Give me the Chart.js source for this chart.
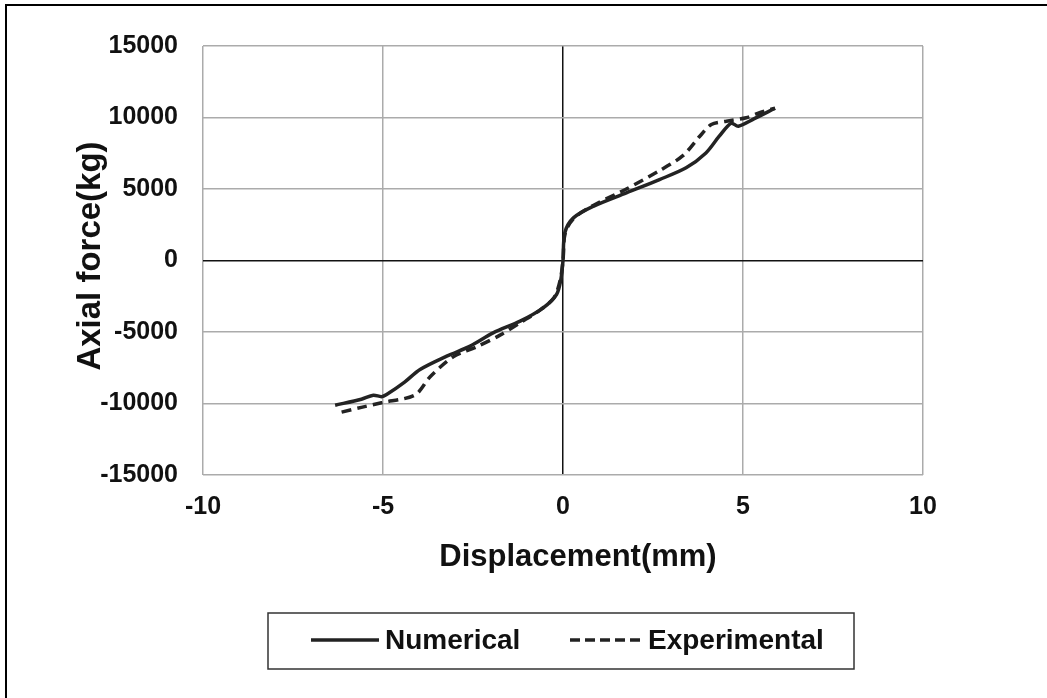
<!DOCTYPE html>
<html><head><meta charset="utf-8">
<script src="https://cdn.jsdelivr.net/npm/chart.js@4/dist/chart.umd.min.js"></script>
<style>
html,body{margin:0;padding:0;background:#fff;}
#wrap{position:relative;width:1047px;height:698px;}
#frame{position:absolute;left:5px;top:4px;right:-4px;bottom:-4px;border-left:2px solid #000;border-top:2px solid #000;}
canvas{position:absolute;left:0;top:0;}
</style></head>
<body><div id="wrap"><div id="frame"></div><canvas id="c" width="1047" height="698"></canvas></div>
<script>
const xTitle = 'Displacement(mm)';
const yTitle = 'Axial force(kg)';
const seriesNames = ['Numerical', 'Experimental'];
const xRange = [-10, 10, 5];
const yRange = [-15000, 15000, 5000];

const numX = [-6.33,-5.6,-5.27,-5.04,-4.9,-4.4,-3.97,-3.23,-2.58,-1.94,-1.19,-0.55,-0.18,-0.06,0,0.05,0.29,0.84,1.76,2.68,3.42,3.97,4.34,4.67,4.87,5.3,5.89];
const numY = [-10120,-9700,-9420,-9520,-9370,-8500,-7620,-6690,-5990,-5060,-4240,-3310,-2380,-1330,0,1930,2980,3790,4730,5660,6480,7520,8690,9600,9390,9900,10650];
const expX = [-6.15,-5.6,-5.04,-4.11,-3.69,-3.05,-2.4,-1.75,-1.19,-0.64,-0.25,-0.08,0,0.06,0.3,0.84,1.76,2.68,3.33,3.8,4.12,4.54,5.09,5.46,5.89];
const expY = [-10600,-10270,-9950,-9400,-8130,-6740,-6040,-5220,-4350,-3470,-2600,-1400,0,1900,2950,3850,5000,6280,7330,8690,9510,9740,9980,10330,10650];

const toPts = (xs, ys) => xs.map((x, i) => ({x: x, y: ys[i]}));
const FONT = '"Liberation Sans", Arial, sans-serif';

const overlay = {
  id: 'overlay',
  afterDraw(chart) {
    const ctx = chart.ctx;
    const a = chart.chartArea;
    ctx.save();
    ctx.fillStyle = '#111';
    ctx.textAlign = 'center';
    ctx.textBaseline = 'middle';
    ctx.font = 'bold 31px ' + FONT;
    ctx.fillText(xTitle, 578, 557);
    ctx.save();
    ctx.translate(91, 256);
    ctx.rotate(-Math.PI / 2);
    ctx.font = 'bold 33px ' + FONT;
    ctx.fillText(yTitle, 0, 0);
    ctx.restore();
    // legend box
    ctx.strokeStyle = '#333';
    ctx.lineWidth = 1.5;
    ctx.strokeRect(268, 613, 586, 56);
    const ly = 640;
    ctx.lineWidth = 3.5;
    ctx.strokeStyle = '#222';
    ctx.setLineDash([]);
    ctx.beginPath(); ctx.moveTo(311, ly); ctx.lineTo(379, ly); ctx.stroke();
    ctx.setLineDash([10, 5]);
    ctx.beginPath(); ctx.moveTo(570, ly); ctx.lineTo(643, ly); ctx.stroke();
    ctx.setLineDash([]);
    ctx.textAlign = 'left';
    ctx.font = 'bold 28px ' + FONT;
    ctx.fillText(chart.data.datasets[0].label, 385, ly + 1);
    ctx.fillText(chart.data.datasets[1].label, 648, ly + 1);
    ctx.restore();
  }
};

new Chart(document.getElementById('c'), {
  type: 'scatter',
  data: {
    datasets: [
      {label: seriesNames[0], data: toPts(numX, numY), showLine: true, borderColor: '#232323', borderWidth: 3.5, pointRadius: 0, tension: 0.3, fill: false},
      {label: seriesNames[1], data: toPts(expX, expY), showLine: true, borderColor: '#232323', borderWidth: 3.5, borderDash: [10, 6], pointRadius: 0, tension: 0.3, fill: false}
    ]
  },
  options: {
    responsive: false,
    animation: false,
    devicePixelRatio: 1,
    layout: {padding: {left: 0, top: 46, right: 124, bottom: 0}},
    plugins: {legend: {display: false}, tooltip: {enabled: false}},
    scales: {
      x: {
        type: 'linear', min: xRange[0], max: xRange[1],
        ticks: {stepSize: xRange[2], color: '#111', font: {family: FONT, size: 25, weight: 'bold'}, padding: 17, callback: v => String(v)},
        grid: {drawTicks: false, color: c => c.tick && c.tick.value === 0 ? '#111' : '#ababab', lineWidth: 1.5},
        border: {display: false},
        afterFit: s => { s.height = 223; }
      },
      y: {
        type: 'linear', min: yRange[0], max: yRange[1],
        ticks: {stepSize: yRange[2], color: '#111', font: {family: FONT, size: 25, weight: 'bold'}, padding: 25, callback: v => String(v)},
        grid: {drawTicks: false, color: c => c.tick && c.tick.value === 0 ? '#111' : '#ababab', lineWidth: 1.5},
        border: {display: false},
        afterFit: s => { s.width = 203; }
      }
    }
  },
  plugins: [overlay]
});
</script></body></html>
